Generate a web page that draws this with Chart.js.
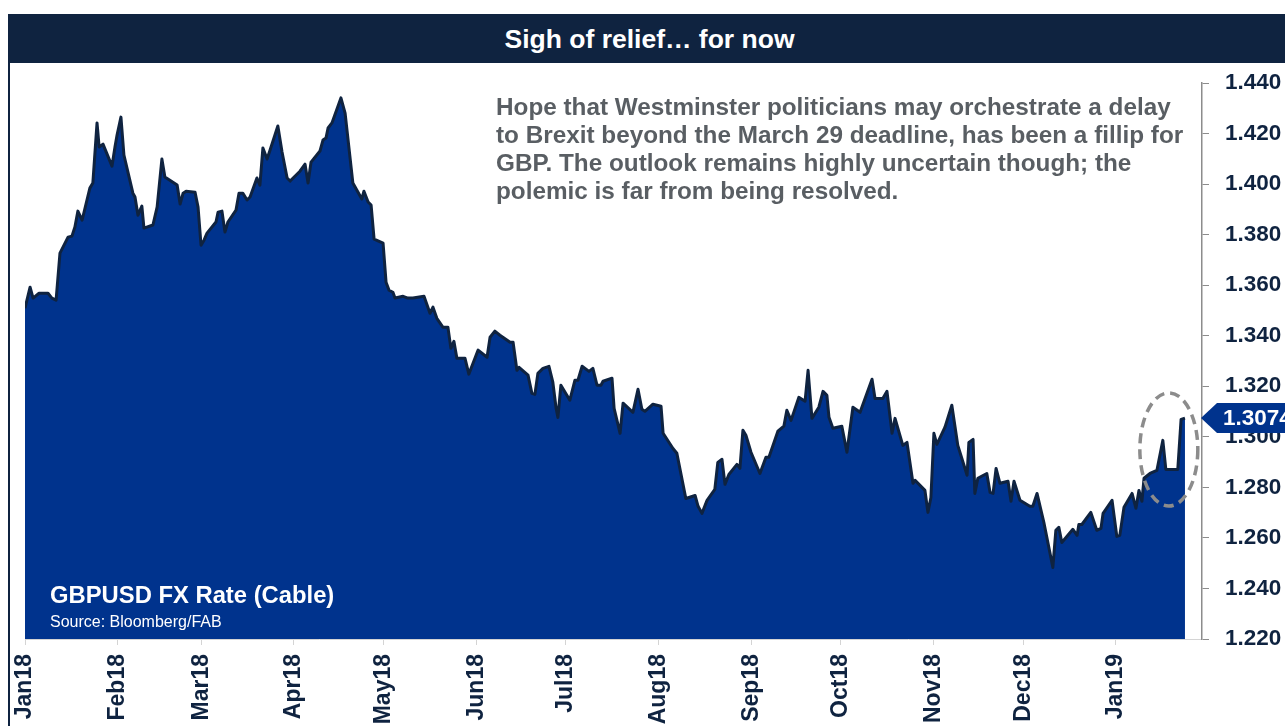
<!DOCTYPE html>
<html>
<head>
<meta charset="utf-8">
<script src="https://cdn.jsdelivr.net/npm/chart.js@4.4.1/dist/chart.umd.min.js"></script>
<style>
  html, body { margin: 0; padding: 0; background: #fff; }
  body { width: 1285px; height: 726px; position: relative; overflow: hidden; font-family: "Liberation Sans", Arial, sans-serif; }
  #titlebar { position: absolute; left: 8px; top: 14px; width: 1271px; padding-left: 6px; height: 49px; background: #0f2340;
    color: #fff; font-weight: bold; font-size: 26.5px; line-height: 51px; text-align: center; }
  #leftline { position: absolute; left: 8px; top: 63px; width: 2px; height: 663px; background: #0f2340; }
  #wrap { position: absolute; left: 0; top: 63px; width: 1285px; height: 663px; }
  #note { position: absolute; left: 496px; top: 93px; font-weight: bold; font-size: 24.3px; line-height: 28px; color: #595e63; }
  #serie { position: absolute; left: 50px; top: 581px; font-weight: bold; font-size: 23.8px; color: #fff; }
  #source { position: absolute; left: 50px; top: 613px; font-size: 16px; color: #fff; }
</style>
</head>
<body>
<div id="titlebar">Sigh of relief… for now</div>
<div id="leftline"></div>
<div id="wrap"><canvas id="fx"></canvas></div>
<div id="note">Hope that Westminster politicians may orchestrate a delay<br>to Brexit beyond the March 29 deadline, has been a fillip for<br>GBP. The outlook remains highly uncertain though; the<br>polemic is far from being resolved.</div>
<div id="serie">GBPUSD FX Rate (Cable)</div>
<div id="source">Source: Bloomberg/FAB</div>
<script>
// days since 1 Jan 2018
var days = [0,1.7,2.7,4.7,7.7,9.0,10.4,11.7,14.4,15.7,16.7,17.7,19.1,21.7,22.7,24.1,24.8,26.1,29.1,30.1,
  30.8,32.1,33.1,36.1,36.8,37.8,39.1,39.8,42.8,44.2,45.8,46.8,50.9,51.9,52.9,53.9,56.9,57.9,58.9,59.9,
  60.9,63.9,64.6,65.9,66.9,67.9,70.6,71.6,72.9,74.3,75.3,77.6,78.6,79.6,81.0,82.0,84.6,86.0,87.7,88.7,
  92.0,93.7,94.7,95.7,98.7,99.7,100.7,101.4,102.7,105.7,107.1,109.7,112.7,113.4,114.8,115.8,116.8,119.8,120.8,121.8,
  123.1,123.8,126.5,128.1,129.8,133.5,135.5,136.5,137.8,139.8,141.5,142.5,143.5,144.5,147.2,148.5,149.9,151.6,154.6,155.6,
  157.2,158.9,162.3,163.3,164.6,165.3,168.3,169.6,170.6,171.6,173.3,175.3,176.6,177.7,178.3,179.3,182.3,184.0,185.0,186.4,
  188.7,190.0,191.4,192.7,193.4,196.4,197.1,199.1,200.1,203.4,205.1,206.4,207.4,210.1,212.8,213.5,216.8,218.1,221.1,224.2,
  225.2,226.5,228.2,230.8,231.8,233.2,234.2,235.5,238.2,239.2,240.2,241.2,242.9,245.9,247.9,248.9,251.9,253.9,254.9,256.3,
  258.9,261.0,262.0,263.3,265.6,267.0,268.3,269.0,270.3,273.3,275.0,277.0,279.4,283.4,284.4,287.0,288.4,290.1,291.1,293.7,
  295.1,297.1,297.8,301.1,302.1,303.1,304.1,305.1,307.8,310.1,312.1,315.2,315.8,317.2,317.8,318.8,321.8,322.9,323.9,324.9,
  326.2,328.9,329.9,330.9,332.9,336.2,337.2,338.6,340.9,343.9,344.9,345.9,346.9,350.6,352.0,352.6,353.6,356.6,358.6,360.0,
  360.7,363.7,365.3,366.3,367.7,370.4,371.7,372.7,373.7,374.4,376.4,378.7,380.7,381.7,385.7,386.8,388.1];

var rate = [1.3509,1.3592,1.3549,1.3568,1.3568,1.3549,1.3541,1.3727,1.3790,1.3794,1.3830,1.3893,1.3857,1.3984,1.4004,1.4242,1.4147,1.4158,1.4071,1.4147,
  1.4194,1.4265,1.4115,1.3964,1.3949,1.3877,1.3913,1.3826,1.3838,1.3909,1.4099,1.4028,1.3996,1.3921,1.3964,1.3972,1.3968,1.3909,1.3758,1.3778,
  1.3806,1.3850,1.3889,1.3893,1.3810,1.3850,1.3897,1.3964,1.3964,1.3937,1.3949,1.4024,1.3996,1.4143,1.4099,1.4135,1.4230,1.4127,1.4024,1.4012,
  1.4051,1.4079,1.4004,1.4087,1.4131,1.4174,1.4182,1.4222,1.4242,1.4341,1.4281,1.4004,1.3941,1.3972,1.3929,1.3917,1.3782,1.3766,1.3612,1.3580,
  1.3572,1.3549,1.3556,1.3549,1.3549,1.3556,1.3489,1.3513,1.3469,1.3434,1.3434,1.3350,1.3378,1.3311,1.3311,1.3248,1.3291,1.3343,1.3315,1.3394,
  1.3418,1.3402,1.3374,1.3374,1.3263,1.3275,1.3244,1.3172,1.3168,1.3251,1.3271,1.3279,1.3216,1.3113,1.3077,1.3204,1.3145,1.3224,1.3224,1.3279,
  1.3259,1.3271,1.3204,1.3204,1.3220,1.3232,1.3113,1.3014,1.3133,1.3097,1.3188,1.3109,1.3101,1.3129,1.3121,1.3014,1.2954,1.2935,1.2756,1.2768,
  1.2725,1.2697,1.2749,1.2792,1.2899,1.2911,1.2812,1.2851,1.2891,1.2875,1.3026,1.3006,1.2939,1.2855,1.2919,1.2919,1.3022,1.3042,1.3105,1.3065,
  1.3156,1.3141,1.3263,1.3073,1.3117,1.3180,1.3164,1.3077,1.3034,1.3042,1.2939,1.3117,1.3097,1.3228,1.3152,1.3152,1.3180,1.3014,1.3073,1.2966,
  1.2978,1.2816,1.2828,1.2788,1.2701,1.2760,1.3014,1.2970,1.3038,1.3125,1.2966,1.2848,1.2978,1.2990,1.2776,1.2836,1.2855,1.2780,1.2776,1.2875,
  1.2816,1.2824,1.2745,1.2824,1.2749,1.2725,1.2725,1.2776,1.2661,1.2483,1.2630,1.2642,1.2582,1.2634,1.2610,1.2653,1.2653,1.2701,1.2630,1.2638,
  1.2697,1.2749,1.2606,1.2610,1.2721,1.2776,1.2717,1.2788,1.2745,1.2836,1.2855,1.2867,1.2986,1.2871,1.2871,1.3069,1.3074];

var monthTicks = [0,31,59,90,120,151,181,212,243,273,304,334,365];
var monthLabels = ['Jan18','Feb18','Mar18','Apr18','May18','Jun18','Jul18','Aug18','Sep18','Oct18','Nov18','Dec18','Jan19'];

// dashed ring round the latest move: centre day/rate and half sizes
var ringDay = 382.7, ringRate = 1.2950, ringHalfDays = 9.7, ringHalfRate = 0.0224;

var navy = '#0f2340';
var blue = '#00338d';
var font = '"Liberation Sans", Arial, sans-serif';

var extras = {
  id: 'extras',
  afterDatasetsDraw: function(chart) {
    var ctx = chart.ctx, area = chart.chartArea, x = chart.scales.x, y = chart.scales.y;

    // dashed ellipse
    var cx = x.getPixelForValue(ringDay), cy = y.getPixelForValue(ringRate);
    var rx = x.getPixelForValue(ringDay + ringHalfDays) - cx;
    var ry = cy - y.getPixelForValue(ringRate + ringHalfRate);
    ctx.save();
    ctx.strokeStyle = '#8c8c8c';
    ctx.lineWidth = 3.5;
    ctx.setLineDash([10, 6]);
    ctx.beginPath();
    ctx.ellipse(cx, cy, rx, ry, 0, 0, Math.PI * 2);
    ctx.stroke();
    ctx.restore();

    // last value tag on the axis
    var last = rate[rate.length - 1];
    var py = y.getPixelForValue(last);
    var left = area.right - 1;
    ctx.save();
    ctx.fillStyle = blue;
    ctx.beginPath();
    ctx.moveTo(left, py);
    ctx.lineTo(left + 16, py - 15);
    ctx.lineTo(chart.width, py - 15);
    ctx.lineTo(chart.width, py + 15);
    ctx.lineTo(left + 16, py + 15);
    ctx.closePath();
    ctx.fill();
    ctx.fillStyle = '#fff';
    ctx.font = 'bold 22.5px ' + font;
    ctx.textBaseline = 'middle';
    ctx.fillText(last.toFixed(4), area.right + 21, py + 1);
    ctx.restore();
  }
};

new Chart(document.getElementById('fx'), {
  type: 'line',
  data: {
    datasets: [{
      label: 'GBPUSD',
      data: days.map(function(d, i) { return {x: d, y: rate[i]}; }),
      borderColor: navy,
      backgroundColor: blue,
      borderWidth: 3,
      borderJoinStyle: 'round',
      fill: 'start',
      pointRadius: 0,
      tension: 0
    }]
  },
  options: {
    responsive: true,
    maintainAspectRatio: false,
    animation: false,
    layout: { padding: { left: 25, top: 20, right: 0, bottom: 0 } },
    plugins: { legend: { display: false }, tooltip: { enabled: false } },
    scales: {
      x: {
        type: 'linear',
        min: 0,
        max: 393.8,
        afterBuildTicks: function(s) { s.ticks = monthTicks.map(function(v) { return {value: v}; }); },
        afterFit: function(s) { s.height = 87; },
        grid: { drawOnChartArea: false, color: '#d4d4d4', tickLength: 6 },
        border: { color: '#d4d4d4' },
        ticks: {
          autoSkip: false,
          maxRotation: 90,
          minRotation: 90,
          padding: 9,
          color: navy,
          font: { family: font, size: 23, weight: 'bold' },
          callback: function(v, i) { return monthLabels[i]; }
        }
      },
      y: {
        position: 'right',
        min: 1.22,
        max: 1.44,
        afterFit: function(s) { s.width = 83; s.paddingTop = 0; s.paddingBottom = 0; },
        grid: { drawOnChartArea: false, color: '#8c8c8c', tickLength: 7 },
        border: { color: '#8c8c8c', width: 1.5 },
        ticks: {
          stepSize: 0.02,
          padding: 16,
          color: navy,
          font: { family: font, size: 22.5, weight: 'bold' },
          callback: function(v) { return v.toFixed(3); }
        }
      }
    }
  },
  plugins: [extras]
});
</script>
</body>
</html>
